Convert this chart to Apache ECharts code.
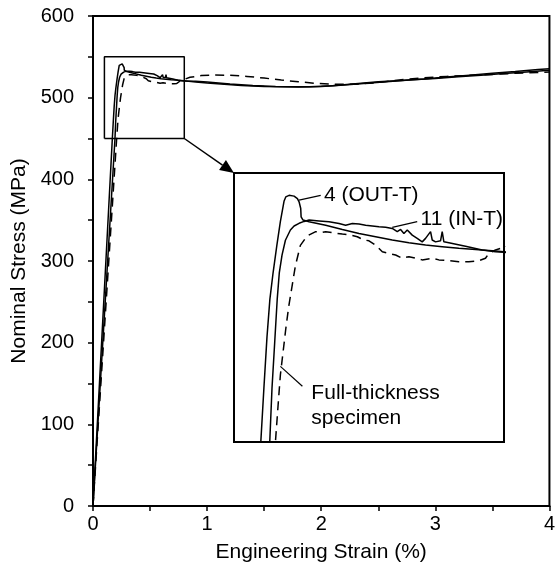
<!DOCTYPE html>
<html>
<head>
<meta charset="utf-8">
<script src="https://cdn.jsdelivr.net/npm/echarts@6/dist/echarts.min.js"></script>
<style>
html,body{margin:0;padding:0;background:#fff;}
#chart{width:558px;height:575px;}
</style>
</head>
<body>
<div id="chart"></div>
<script>
// ---- Data ----
// Specimen 4 (OUT-T)
const outStrain = [0, 0.1695, 0.1775, 0.1855, 0.193, 0.2014, 0.211, 0.2203, 0.2299, 0.2342, 0.2428, 0.2558, 0.2644, 0.2687, 0.273, 0.274, 0.279, 0.2946, 0.3377, 0.3809, 0.4241, 0.4672, 0.5103, 0.5535, 0.5966, 0.6398, 0.6829, 0.7261, 0.7692, 0.80, 0.9, 1.0, 1.15, 1.3, 1.5, 1.7, 1.9, 2.1, 2.3, 2.5, 2.7, 2.9, 3.1, 3.3, 3.5, 3.7, 3.9, 4.0];
const outStress = [0, 450, 470, 489, 503, 513, 523, 532, 539.6, 541.1, 541.7, 541.4, 540.5, 539.3, 536.8, 533.7, 532.5, 531.9, 530.6, 529.0, 527.5, 526.3, 525.1, 524.1, 523.2, 522.6, 522.0, 521.6, 521.1, 520.7, 519.3, 518.0, 516.3, 515.0, 513.8, 513.3, 513.4, 514.5, 517.0, 519.5, 521.0, 522.8, 525.3, 527.5, 529.8, 532.0, 534.5, 535.5];
// Specimen 11 (IN-T)
const inStrain = [0, 0.1927, 0.1985, 0.2055, 0.212, 0.2175, 0.2245, 0.2333, 0.2462, 0.2558, 0.2687, 0.2817, 0.2946, 0.3205, 0.3464, 0.3723, 0.3895, 0.4068, 0.4241, 0.4413, 0.4586, 0.4758, 0.4931, 0.5103, 0.5233, 0.5319, 0.5405, 0.5492, 0.5621, 0.575, 0.588, 0.5966, 0.6096, 0.6139, 0.6225, 0.6355, 0.6398, 0.6441, 0.657, 0.7002, 0.7434, 0.7779, 0.80, 0.9, 1.0, 1.2, 1.4, 1.6, 1.8, 2.0, 2.2, 2.4, 2.6, 2.8, 3.0, 3.2, 3.4, 3.6, 3.8, 4.0];
const inStress = [0, 450, 470, 487, 503, 513, 519.5, 525, 528.8, 530.3, 531.3, 532.0, 532.5, 532.2, 531.9, 531.2, 530.6, 531.2, 531.0, 530.6, 530.3, 530.0, 529.8, 529.4, 528.2, 529.0, 527.5, 528.8, 526.9, 525.7, 524.4, 525.7, 528.2, 525.1, 524.4, 524.8, 528.2, 524.4, 524.1, 522.8, 521.4, 520.7, 520.5, 520.2, 519.2, 516.8, 514.8, 513.6, 513.2, 513.8, 515.5, 517.8, 519.8, 521.8, 523.5, 525.5, 527.5, 529.5, 531.5, 533.5];
// Full-thickness specimen
const fullStrain = [0, 0.2074, 0.2155, 0.2203, 0.2342, 0.2418, 0.2592, 0.2721, 0.2894, 0.3119, 0.3248, 0.3377, 0.355, 0.3809, 0.4025, 0.4197, 0.437, 0.4499, 0.4672, 0.4845, 0.5017, 0.519, 0.5362, 0.5535, 0.5707, 0.588, 0.6139, 0.6312, 0.657, 0.6829, 0.7088, 0.7347, 0.752, 0.7606, 0.7779, 0.7994, 0.85, 0.95, 1.05, 1.2, 1.35, 1.5, 1.65, 1.8, 1.95, 2.1, 2.3, 2.5, 2.7, 2.9, 3.1, 3.3, 3.5, 3.7, 3.9, 4.0];
const fullStress = [0, 450, 466, 475, 492, 500.3, 515.5, 523.1, 526.6, 528.2, 527.8, 528.2, 527.8, 527.3, 526.9, 526.3, 525.1, 524.8, 523.2, 520.7, 520.1, 519.5, 518.3, 518.9, 518.3, 517.7, 518.3, 517.7, 517.4, 517.0, 517.0, 517.4, 518.3, 520.1, 521.4, 522.3, 525.0, 527.0, 527.7, 527.5, 526.0, 524.0, 521.6, 519.5, 517.5, 516.5, 516.5, 518.5, 522.0, 524.5, 526.0, 527.3, 528.5, 529.8, 530.8, 531.5];
// Zoom window shown in the inset
const zoomStrain = [0.1, 0.8];
const zoomStress = [450, 550];
// Axis ranges
const strainRange = [0, 4];
const stressRange = [0, 600];

const zip = (xs, ys) => xs.map((x, i) => [x, ys[i]]);
const FONT = "'Liberation Sans', Arial, sans-serif";
const chart = echarts.init(document.getElementById('chart'), null, {renderer: 'canvas'});

const insetGrid = {left: 234, top: 173, width: 270, height: 269};

function curveSeries(name, data, dashed, idx) {
  return {
    name: name, type: 'line', data: data, xAxisIndex: idx, yAxisIndex: idx,
    showSymbol: false, symbol: 'none', animation: false, clip: true, z: 3,
    lineStyle: {color: '#000', width: 1.5, type: dashed ? [9, 6] : 'solid'}
  };
}

const boxData = [
  [zoomStrain[0], zoomStress[0]], [zoomStrain[1], zoomStress[0]],
  [zoomStrain[1], zoomStress[1]], [zoomStrain[0], zoomStress[1]],
  [zoomStrain[0], zoomStress[0]]
];

const option = {
  backgroundColor: '#fff',
  animation: false,
  grid: [
    {left: 93, right: 5, top: 16, bottom: 69, show: true, borderColor: '#000', borderWidth: 2, backgroundColor: 'transparent'},
    Object.assign({show: true, borderColor: '#000', borderWidth: 2, backgroundColor: '#fff', z: 5}, insetGrid)
  ],
  xAxis: [
    {
      type: 'value', gridIndex: 0, min: strainRange[0], max: strainRange[1], interval: 0.5,
      name: 'Engineering Strain (%)', nameLocation: 'middle', nameGap: 36,
      nameTextStyle: {color: '#000', fontSize: 21, fontFamily: FONT},
      axisLine: {show: true, onZero: false, lineStyle: {color: '#000', width: 2}},
      axisTick: {show: true, inside: false, length: 5, lineStyle: {color: '#000', width: 1.5}},
      axisLabel: {color: '#000', fontSize: 20, fontFamily: FONT, margin: 8,
        formatter: v => (Math.abs(v - Math.round(v)) < 1e-9 ? String(Math.round(v)) : '')},
      splitLine: {show: false}
    },
    {
      type: 'value', gridIndex: 1, min: zoomStrain[0], max: zoomStrain[1],
      show: false, splitLine: {show: false}
    }
  ],
  yAxis: [
    {
      type: 'value', gridIndex: 0, min: stressRange[0], max: stressRange[1], interval: 50,
      name: 'Nominal Stress (MPa)', nameLocation: 'middle', nameGap: 60, nameRotate: 90,
      nameTextStyle: {color: '#000', fontSize: 21, fontFamily: FONT},
      axisLine: {show: true, onZero: false, lineStyle: {color: '#000', width: 2}},
      axisTick: {show: true, inside: false, length: 5, lineStyle: {color: '#000', width: 1.5}},
      axisLabel: {color: '#000', fontSize: 20, fontFamily: FONT, margin: 19,
        formatter: v => (v % 100 === 0 ? String(v) : '')},
      splitLine: {show: false}
    },
    {
      type: 'value', gridIndex: 1, min: zoomStress[0], max: zoomStress[1],
      show: false, splitLine: {show: false}
    }
  ],
  series: [
    curveSeries('4 (OUT-T)', zip(outStrain, outStress), false, 0),
    curveSeries('11 (IN-T)', zip(inStrain, inStress), false, 0),
    curveSeries('Full-thickness specimen', zip(fullStrain, fullStress), true, 0),
    {
      name: 'zoom box', type: 'line', data: boxData, xAxisIndex: 0, yAxisIndex: 0,
      showSymbol: false, symbol: 'none', animation: false, z: 2,
      lineStyle: {color: '#000', width: 1.5}
    },
    Object.assign(curveSeries('4 (OUT-T) inset', zip(outStrain, outStress), false, 1), {z: 10}),
    Object.assign(curveSeries('11 (IN-T) inset', zip(inStrain, inStress), false, 1), {z: 10}),
    Object.assign(curveSeries('Full inset', zip(fullStrain, fullStress), true, 1), {z: 10})
  ]
};
chart.setOption(option);

// ---- Annotations (arrow, inset labels with leader lines) ----
const P = (pt) => chart.convertToPixel({xAxisIndex: 1, yAxisIndex: 1}, pt);
const start = chart.convertToPixel({xAxisIndex: 0, yAxisIndex: 0}, [zoomStrain[1], zoomStress[0]]);
const tip = [insetGrid.left, insetGrid.top];
const dx = tip[0] - start[0], dy = tip[1] - start[1];
const len = Math.sqrt(dx * dx + dy * dy);
const ux = dx / len, uy = dy / len;
const headL = 14, headW = 6;
const base = [tip[0] - ux * headL, tip[1] - uy * headL];
const left = [base[0] - uy * headW, base[1] + ux * headW];
const right = [base[0] + uy * headW, base[1] - ux * headW];

function leader(a, b) {
  const p1 = P(a), p2 = P(b);
  return {type: 'line', z: 20, shape: {x1: p1[0], y1: p1[1], x2: p2[0], y2: p2[1]}, style: {stroke: '#000', lineWidth: 1.2}};
}
function label(text, at) {
  const p = P(at);
  return {type: 'text', z: 20, x: p[0], y: p[1],
    style: {text: text, fill: '#000', font: '21px ' + FONT, textAlign: 'left', textVerticalAlign: 'middle', lineHeight: 25}};
}

chart.setOption({
  graphic: [
    {type: 'line', z: 20, shape: {x1: start[0], y1: start[1], x2: base[0], y2: base[1]}, style: {stroke: '#000', lineWidth: 1.5}},
    {type: 'polygon', z: 20, shape: {points: [tip, left, right]}, style: {fill: '#000'}},
    leader([0.2687, 539.9], [0.3248, 541.7]),
    label('4 (OUT-T)', [0.3334, 541.7]),
    leader([0.5103, 529.8], [0.575, 531.9]),
    label('11 (IN-T)', [0.5837, 532.7]),
    leader([0.2203, 478.1], [0.2773, 470.7]),
    label('Full-thickness\nspecimen', [0.3006, 463.5])
  ]
});
</script>
</body>
</html>
